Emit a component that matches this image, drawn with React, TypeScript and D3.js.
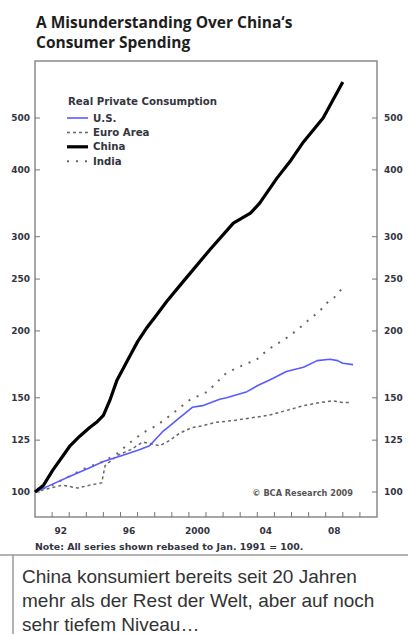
import React from "react";
import * as d3 from "d3";

// ---- data ----
const yTicks = [100, 125, 150, 200, 250, 300, 400, 500];
const xLabelYears = [1992, 1996, 2000, 2004, 2008];
const xLabelTexts = ["92", "96", "2000", "04", "08"];
const xTickYears = d3.range(1992, 2011);

const chinaYears = [1991.0, 1991.5, 1992.05, 1992.65, 1993.05, 1993.6, 1994.2, 1994.6, 1995.0, 1995.4, 1995.8, 1996.4, 1997.0, 1997.55, 1998.1, 1998.7, 1999.65, 2001.2, 2002.6, 2003.6, 2004.15, 2005.15, 2005.9, 2006.7, 2007.85, 2009.0];
const chinaValues = [100, 103, 110, 117, 122, 127, 132, 135, 139, 149, 162, 176, 191, 203, 214, 227, 247, 283, 318, 332, 347, 386, 414, 451, 500, 584];

const usYears = [1991.0, 1991.9, 1993.05, 1994.2, 1995.0, 1996.1, 1997.1, 1997.7, 1998.5, 1998.9, 1999.5, 2000.2, 2000.8, 2001.8, 2002.2, 2003.4, 2004.0, 2004.9, 2005.7, 2006.7, 2007.5, 2008.25, 2008.7, 2009.0, 2009.6];
const usValues = [100, 103, 107, 111, 114, 117, 120, 122, 130, 133, 138, 144, 145, 149, 150, 154, 158, 163, 168, 171, 176, 177, 176, 174, 173];

const euroYears = [1991.0, 1991.9, 1992.6, 1993.5, 1994.2, 1994.9, 1995.1, 1995.8, 1996.6, 1997.3, 1998.3, 1998.9, 1999.5, 2000.2, 2000.8, 2001.6, 2002.6, 2003.6, 2004.6, 2005.7, 2006.7, 2007.7, 2008.4, 2009.0, 2009.5];
const euroValues = [100, 101.7, 103, 101.7, 103, 104, 112, 117, 120, 124, 122, 125, 129, 132, 133, 135, 136, 137.5, 139, 142, 145, 147, 148, 147, 147];

const indiaYears = [1991.0, 1992.0, 1993.0, 1994.0, 1995.0, 1995.8, 1996.6, 1997.3, 1998.1, 1998.9, 1999.5, 2000.1, 2001.1, 2001.6, 2002.2, 2003.4, 2003.9, 2004.4, 2004.9, 2005.5, 2006.0, 2006.5, 2007.1, 2007.6, 2008.1, 2008.5, 2009.0];
const indiaValues = [100, 103, 107, 111, 114, 118, 124, 129, 133, 139, 144, 149, 154, 160, 167, 174, 176, 182, 187, 192, 197, 203, 211, 217, 226, 231, 241];

const legendLabels = ["U.S.", "Euro Area", "China", "India"];

const W = 408;
const H = 634;
const frame = { left: 35, right: 377, top: 61, bottom: 517 };

const x = d3.scaleLinear().domain([1991, 2011]).range([35, 377]);
const y = d3.scaleLog().domain([100, 500]).range([492, 118]);

const lineGen = d3
  .line<[number, number]>()
  .x((d) => x(d[0]))
  .y((d) => y(d[1]));

const zip = (a: number[], b: number[]) => a.map((v, i) => [v, b[i]] as [number, number]);

const seriesStyles = [
  { data: zip(usYears, usValues), stroke: "#5a5aff", width: 1.6, dash: "", cap: "butt" },
  { data: zip(euroYears, euroValues), stroke: "#666", width: 1.5, dash: "3,3", cap: "butt" },
  { data: zip(chinaYears, chinaValues), stroke: "#000", width: 3.2, dash: "", cap: "butt" },
  { data: zip(indiaYears, indiaValues), stroke: "#666", width: 2, dash: "2,7", cap: "butt" },
];

const smallFont = "'DejaVu Sans', Verdana, sans-serif";
const textCol = "#34343f";

export default function App() {
  return (
    <svg width={W} height={H} style={{ position: "absolute", left: 0, top: 0, background: "#fff" }}>
      <rect x={0} y={0} width={W} height={H} fill="#fff" />
      {/* title */}
      <text x={36} y={27.5} fontFamily="'Open Sans', sans-serif" fontWeight={700} fontSize={15.5} fill="#1e1e1e">
        A Misunderstanding Over China‘s
      </text>
      <text x={36} y={48} fontFamily="'Open Sans', sans-serif" fontWeight={700} fontSize={15.5} fill="#1e1e1e">
        Consumer Spending
      </text>

      {/* frame */}
      <rect
        x={frame.left}
        y={frame.top}
        width={frame.right - frame.left}
        height={frame.bottom - frame.top}
        fill="none"
        stroke="#8a8a8a"
        strokeWidth={1.5}
      />

      {/* y ticks */}
      {yTicks.map((t) => (
        <g key={t}>
          <line x1={frame.left} x2={frame.left + 5} y1={y(t)} y2={y(t)} stroke="#777" strokeWidth={1} />
          <line x1={frame.right - 5} x2={frame.right} y1={y(t)} y2={y(t)} stroke="#777" strokeWidth={1} />
          <text x={30} y={y(t)} dy="0.36em" textAnchor="end" fontFamily={smallFont} fontWeight={700} fontSize={9} fill={textCol}>
            {t}
          </text>
          <text x={384} y={y(t)} dy="0.36em" textAnchor="start" fontFamily={smallFont} fontWeight={700} fontSize={9} fill={textCol}>
            {t}
          </text>
        </g>
      ))}

      {/* x ticks */}
      {xTickYears.map((yr) => (
        <line key={yr} x1={x(yr)} x2={x(yr)} y1={frame.bottom} y2={frame.bottom - 5} stroke="#777" strokeWidth={1} />
      ))}
      {xLabelYears.map((yr, i) => (
        <text key={yr} x={x(yr + 0.5)} y={534} textAnchor="middle" fontFamily={smallFont} fontWeight={700} fontSize={9} fill={textCol}>
          {xLabelTexts[i]}
        </text>
      ))}

      {/* series */}
      {[1, 3, 0, 2].map((i) => {
        const s = seriesStyles[i];
        return (
          <path
            key={i}
            d={lineGen(s.data) || ""}
            fill="none"
            stroke={s.stroke}
            strokeWidth={s.width}
            strokeDasharray={s.dash || undefined}
            strokeLinejoin="round"
            strokeLinecap={s.cap as any}
          />
        );
      })}

      {/* legend */}
      <text x={68} y={101.5} dy="0.36em" fontFamily={smallFont} fontWeight={700} fontSize={10.2} fill={textCol}>
        Real Private Consumption
      </text>
      {legendLabels.map((lab, i) => {
        const s = seriesStyles[i];
        const ly = 118 + i * 14.4;
        return (
          <g key={lab}>
            <line
              x1={67}
              x2={88}
              y1={ly}
              y2={ly}
              stroke={s.stroke}
              strokeWidth={s.width}
              strokeDasharray={s.dash || undefined}
              strokeLinecap={s.cap as any}
            />
            <text x={93} y={ly} dy="0.36em" fontFamily={smallFont} fontWeight={700} fontSize={10.2} fill={textCol}>
              {lab}
            </text>
          </g>
        );
      })}

      {/* copyright */}
      <text x={353} y={496} textAnchor="end" fontFamily={smallFont} fontWeight={700} fontSize={8.2} fill="#555">
        © BCA Research 2009
      </text>

      {/* note */}
      <text x={35} y={550} fontFamily={smallFont} fontWeight={700} fontSize={9.4} fill={textCol}>
        Note: All series shown rebased to Jan. 1991 = 100.
      </text>

      {/* caption box */}
      <line x1={0} x2={W} y1={555} y2={555} stroke="#9a9a9a" strokeWidth={1.5} />
      <line x1={13} x2={13} y1={555} y2={H} stroke="#9a9a9a" strokeWidth={1.5} />
      <text fontFamily="'Liberation Sans', Arial, sans-serif" fontSize={19} fill="#333">
        <tspan x={22} y={583}>China konsumiert bereits seit 20 Jahren</tspan>
        <tspan x={22} y={607}>mehr als der Rest der Welt, aber auf noch</tspan>
        <tspan x={22} y={631}>sehr tiefem Niveau…</tspan>
      </text>
    </svg>
  );
}
